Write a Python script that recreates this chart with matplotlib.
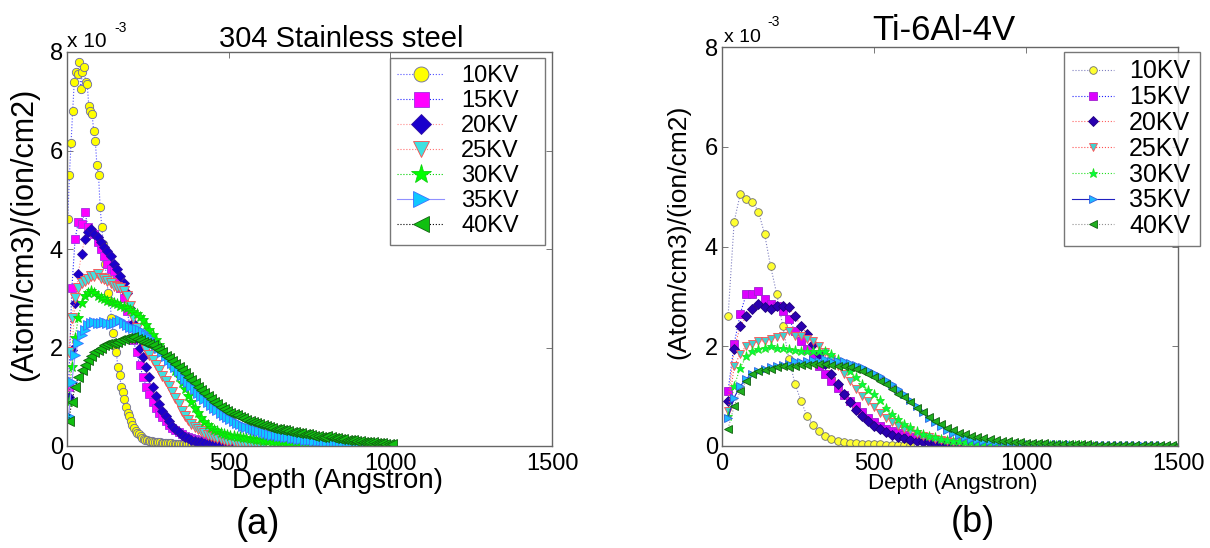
import matplotlib
matplotlib.use("Agg")
import matplotlib.pyplot as plt
import numpy as np
from matplotlib.ticker import FuncFormatter, MultipleLocator

plt.rcParams["font.family"] = ["Liberation Sans", "DejaVu Sans"]

W, H = 1210, 548
Y_SCALE = 1e-3          # concentrations below are stored in units of 1e-3

LABELS = ["10KV", "15KV", "20KV", "25KV", "30KV", "35KV", "40KV"]

# ── 304 stainless steel: implanted N profiles, (atom/cm3)/(ion/cm2) x 1e-3 ──
ss_step = [5, 10, 10, 10, 10, 10, 10]          # depth bin (Angstrom) per series
ss_10kv = [4.6, 5.5, 6.15, 6.8, 7.4, 7.6, 7.55, 7.8, 7.25, 7.6,
           7.7, 7.4, 7.35, 6.9, 6.8, 6.75, 6.4, 6.2, 5.7, 5.5,
           4.85, 4.45, 4.1, 3.7, 3.4, 3.1, 2.95, 2.6, 2.3, 2.05,
           1.9, 1.6, 1.45, 1.2, 1.1, 0.95, 0.8, 0.67, 0.6, 0.5,
           0.43, 0.36, 0.3, 0.26, 0.24, 0.2, 0.17, 0.15, 0.13, 0.12,
           0.11, 0.1, 0.1, 0.09, 0.09, 0.08, 0.08, 0.08, 0.07, 0.07,
           0.07, 0.06, 0.06, 0.06, 0.06, 0.05, 0.05, 0.05, 0.05, 0.05,
           0.04, 0.04, 0.04, 0.04, 0.04, 0.04, 0.03, 0.03, 0.03, 0.03,
           0.03, 0.03, 0.03, 0.02, 0.02, 0.02, 0.02, 0.02, 0.02, 0.02,
           0.02, 0.01, 0.01, 0.01, 0.01, 0.01, 0.01, 0.01, 0.01, 0.01,
           0.01]
ss_15kv = [1.2, 3.2, 4.2, 4.55, 4.5, 4.75, 4.45, 4.35, 4.3, 4.15,
           4.0, 3.85, 3.7, 3.6, 3.55, 3.4, 3.2, 3.0, 2.75, 2.45,
           2.15, 1.9, 1.65, 1.4, 1.2, 1.05, 0.9, 0.78, 0.68, 0.58,
           0.5, 0.43, 0.37, 0.32, 0.28, 0.24, 0.21, 0.18, 0.16, 0.14,
           0.12, 0.11, 0.1, 0.09, 0.08, 0.07, 0.07, 0.06, 0.05, 0.05,
           0.04]
ss_20kv = [1.0, 1.95, 2.9, 3.5, 3.9, 4.2, 4.35, 4.4, 4.3, 4.25,
           4.15, 4.05, 3.95, 3.85, 3.7, 3.6, 3.45, 3.3, 3.1, 2.8,
           2.5, 2.2, 2.0, 1.8, 1.6, 1.4, 1.2, 1.02, 0.86, 0.72,
           0.6, 0.5, 0.41, 0.34, 0.28, 0.23, 0.19, 0.16, 0.13, 0.11,
           0.09, 0.08, 0.07, 0.06, 0.05, 0.05, 0.04, 0.04, 0.03, 0.03,
           0.02]
ss_25kv = [1.9, 2.6, 3.0, 3.2, 3.3, 3.35, 3.4, 3.45, 3.45, 3.5,
           3.42, 3.4, 3.35, 3.3, 3.25, 3.22, 3.2, 3.15, 3.05, 2.85,
           2.6, 2.4, 2.25, 2.1, 1.95, 1.85, 1.75, 1.65, 1.55, 1.42,
           1.32, 1.22, 1.1, 0.98, 0.85, 0.72, 0.6, 0.52, 0.45, 0.39,
           0.34, 0.3, 0.26, 0.23, 0.2, 0.18, 0.16, 0.14, 0.12, 0.11,
           0.1, 0.09, 0.08, 0.07, 0.06, 0.06, 0.05, 0.05, 0.04, 0.04,
           0.03]
ss_30kv = [0.9, 1.6, 2.2, 2.6, 2.9, 3.05, 3.1, 3.15, 3.1, 3.05,
           3.0, 2.98, 2.95, 2.92, 2.9, 2.88, 2.85, 2.82, 2.8, 2.76,
           2.72, 2.68, 2.62, 2.55, 2.45, 2.35, 2.25, 2.15, 2.05, 1.95,
           1.85, 1.75, 1.65, 1.52, 1.4, 1.27, 1.15, 1.02, 0.9, 0.78,
           0.66, 0.56, 0.48, 0.42, 0.37, 0.33, 0.3, 0.27, 0.25, 0.23,
           0.21, 0.2, 0.19, 0.18, 0.17, 0.16, 0.15, 0.14, 0.13, 0.12,
           0.11, 0.1, 0.1, 0.09, 0.09, 0.08, 0.08, 0.07, 0.07, 0.06,
           0.06, 0.05, 0.05, 0.05, 0.04, 0.04, 0.04, 0.03, 0.03, 0.03,
           0.03]
ss_35kv = [0.6, 1.3, 1.85, 2.1, 2.25, 2.35, 2.45, 2.5, 2.52, 2.5,
           2.5, 2.52, 2.5, 2.48, 2.5, 2.52, 2.55, 2.5, 2.45, 2.42,
           2.4, 2.38, 2.35, 2.32, 2.25, 2.2, 2.12, 2.05, 1.98, 1.9,
           1.82, 1.75, 1.68, 1.6, 1.52, 1.45, 1.37, 1.3, 1.22, 1.15,
           1.08, 1.01, 0.95, 0.89, 0.83, 0.78, 0.73, 0.68, 0.63, 0.58,
           0.54, 0.5, 0.47, 0.44, 0.41, 0.38, 0.36, 0.34, 0.32, 0.3,
           0.28, 0.26, 0.25, 0.23, 0.22, 0.21, 0.2, 0.19, 0.18, 0.17,
           0.16, 0.15, 0.14, 0.13, 0.12, 0.12, 0.11, 0.1, 0.1, 0.09,
           0.09, 0.08, 0.08, 0.07, 0.07, 0.06, 0.06, 0.05, 0.05, 0.05,
           0.04, 0.04, 0.04, 0.03, 0.03, 0.03, 0.03, 0.02, 0.02, 0.02,
           0.02]
ss_40kv = [0.5, 0.9, 1.2, 1.4, 1.55, 1.65, 1.75, 1.82, 1.9, 1.95,
           2.0, 2.05, 2.08, 2.1, 2.1, 2.12, 2.15, 2.18, 2.2, 2.2,
           2.22, 2.18, 2.15, 2.12, 2.1, 2.08, 2.05, 2.0, 1.95, 1.9,
           1.82, 1.78, 1.72, 1.66, 1.6, 1.54, 1.48, 1.41, 1.34, 1.27,
           1.2, 1.14, 1.08, 1.02, 0.96, 0.9, 0.85, 0.8, 0.76, 0.72,
           0.68, 0.65, 0.62, 0.59, 0.56, 0.53, 0.5, 0.48, 0.46, 0.44,
           0.42, 0.4, 0.38, 0.37, 0.35, 0.34, 0.33, 0.32, 0.3, 0.29,
           0.28, 0.27, 0.26, 0.25, 0.24, 0.22, 0.21, 0.2, 0.19, 0.18,
           0.2, 0.19, 0.17, 0.16, 0.15, 0.14, 0.13, 0.12, 0.12, 0.11,
           0.1, 0.09, 0.09, 0.08, 0.08, 0.07, 0.06, 0.06, 0.05, 0.05,
           0.04]

# ── Ti-6Al-4V ─────────────────────────────────────────────────────────────
ti_step = [20] * 7
ti_10kv = [2.6, 4.5, 5.05, 4.95, 4.9, 4.7, 4.25, 3.6, 3.05, 2.4,
           1.75, 1.25, 0.9, 0.6, 0.42, 0.3, 0.2, 0.14, 0.1, 0.08,
           0.07, 0.06, 0.05, 0.05, 0.04, 0.04, 0.03, 0.03, 0.03, 0.02,
           0.02]
ti_15kv = [1.1, 2.05, 2.65, 3.05, 3.05, 3.1, 2.95, 2.85, 2.8, 2.7,
           2.55, 2.3, 2.1, 1.95, 1.77, 1.6, 1.45, 1.3, 1.17, 1.03,
           0.9, 0.8, 0.68, 0.57, 0.48, 0.4, 0.34, 0.3, 0.26, 0.22,
           0.19, 0.16, 0.14, 0.12, 0.1, 0.09, 0.08, 0.07, 0.06, 0.05,
           0.05, 0.04, 0.04, 0.03, 0.03, 0.03, 0.02, 0.02, 0.02, 0.02,
           0.01]
ti_20kv = [0.9, 1.95, 2.4, 2.6, 2.75, 2.85, 2.78, 2.75, 2.8, 2.81,
           2.78, 2.6, 2.41, 2.25, 2.05, 1.85, 1.65, 1.45, 1.25, 1.05,
           0.88, 0.72, 0.6, 0.5, 0.41, 0.34, 0.28, 0.23, 0.19, 0.16,
           0.13, 0.11, 0.09, 0.08, 0.07, 0.06, 0.05, 0.05, 0.04, 0.04,
           0.03, 0.03, 0.03, 0.02, 0.02, 0.02, 0.02, 0.01, 0.01, 0.01,
           0.01]
ti_25kv = [0.7, 1.6, 1.85, 2.01, 2.05, 2.1, 2.11, 2.15, 2.18, 2.2,
           2.31, 2.21, 2.2, 2.15, 2.1, 2.0, 1.88, 1.75, 1.6, 1.45,
           1.31, 1.15, 1.0, 0.9, 0.78, 0.67, 0.57, 0.48, 0.4, 0.34,
           0.3, 0.25, 0.21, 0.18, 0.15, 0.13, 0.11, 0.09, 0.08, 0.07,
           0.06, 0.05, 0.05, 0.04, 0.04, 0.03, 0.03, 0.03, 0.02, 0.02,
           0.02, 0.02, 0.02, 0.01, 0.01, 0.01, 0.01, 0.01, 0.01, 0.01,
           0.01]
ti_30kv = [0.6, 1.2, 1.57, 1.8, 1.91, 1.95, 1.97, 2.0, 1.97, 1.97,
           1.95, 1.93, 1.91, 1.9, 1.91, 1.9, 1.91, 1.85, 1.75, 1.62,
           1.5, 1.38, 1.25, 1.12, 1.04, 0.92, 0.77, 0.65, 0.55, 0.45,
           0.38, 0.3, 0.25, 0.21, 0.18, 0.15, 0.13, 0.11, 0.1, 0.09,
           0.08, 0.07, 0.06, 0.06, 0.05, 0.05, 0.04, 0.04, 0.04, 0.03,
           0.03, 0.03, 0.03, 0.02, 0.02, 0.02, 0.02, 0.02, 0.02, 0.01,
           0.01]
ti_35kv = [0.57, 0.97, 1.2, 1.35, 1.45, 1.5, 1.55, 1.58, 1.6, 1.63,
           1.65, 1.71, 1.68, 1.7, 1.72, 1.7, 1.75, 1.71, 1.71, 1.7,
           1.66, 1.62, 1.58, 1.52, 1.46, 1.4, 1.32, 1.24, 1.14, 1.04,
           0.92, 0.8, 0.68, 0.57, 0.48, 0.4, 0.33, 0.27, 0.22, 0.18,
           0.15, 0.13, 0.11, 0.1, 0.09, 0.08, 0.07, 0.07, 0.06, 0.06,
           0.05, 0.05, 0.05, 0.04, 0.04, 0.04, 0.04, 0.03, 0.03, 0.03,
           0.03, 0.03, 0.03, 0.02, 0.02, 0.02, 0.02, 0.02, 0.02, 0.02,
           0.02, 0.02, 0.01, 0.01, 0.01]
ti_40kv = [0.35, 0.8, 1.1, 1.3, 1.45, 1.5, 1.52, 1.55, 1.58, 1.6,
           1.58, 1.6, 1.62, 1.63, 1.64, 1.65, 1.64, 1.63, 1.61, 1.6,
           1.58, 1.55, 1.51, 1.45, 1.38, 1.3, 1.24, 1.15, 1.05, 0.98,
           0.88, 0.77, 0.68, 0.58, 0.5, 0.44, 0.37, 0.32, 0.27, 0.24,
           0.21, 0.18, 0.16, 0.14, 0.12, 0.11, 0.1, 0.09, 0.08, 0.07,
           0.07, 0.06, 0.06, 0.05, 0.05, 0.05, 0.04, 0.04, 0.04, 0.04,
           0.03, 0.03, 0.03, 0.03, 0.03, 0.03, 0.02, 0.02, 0.02, 0.02,
           0.02, 0.02, 0.02, 0.02, 0.02]

ss_series = [ss_10kv, ss_15kv, ss_20kv, ss_25kv, ss_30kv, ss_35kv, ss_40kv]
ti_series = [ti_10kv, ti_15kv, ti_20kv, ti_25kv, ti_30kv, ti_35kv, ti_40kv]

# marker, face, edge, line colour, line style
ss_style = [("o", "#ffff00", "#6a6aa0", "#5050ff", ":"),
            ("s", "#ff00ff", "#a030e0", "#2020ff", ":"),
            ("D", "#1a00cc", "#3010a0", "#ff8a8a", ":"),
            ("v", "#40e0e0", "#ff4a4a", "#ff7070", ":"),
            ("*", "#00ff00", "#10d010", "#00d000", ":"),
            (">", "#10c8ff", "#3a70ff", "#9090ff", "-"),
            ("<", "#10c010", "#106010", "#000000", ":")]
ti_style = [("o", "#ffff30", "#707070", "#8080c0", ":"),
            ("s", "#dd00ff", "#a020d0", "#2020ff", ":"),
            ("D", "#2a00b0", "#200080", "#ff6060", ":"),
            ("v", "#40d0d0", "#ff5050", "#ff5050", ":"),
            ("*", "#00ff40", "#20e020", "#20e020", ":"),
            (">", "#20b8ff", "#3060e0", "#2020c0", "-"),
            ("<", "#20b020", "#106010", "#909090", ":")]
ss_msize = [6.0, 6.0, 5.5, 6.5, 8.0, 6.5, 6.5]
ti_msize = [5.5, 5.5, 5.0, 6.0, 6.5, 6.0, 6.0]


def px_rect(l, t, r, b):
    return [l / W, 1 - b / H, (r - l) / W, (b - t) / H]


def draw_panel(ax, series, steps, first_bin, styles, msizes):
    for vals, step, (mk, fc, ec, lc, ls), ms, lab in zip(series, steps, styles, msizes, LABELS):
        depth = (np.arange(len(vals)) + first_bin) * step
        ax.plot(depth, np.array(vals) * Y_SCALE, linestyle=ls, color=lc, linewidth=0.8,
                marker=mk, markersize=ms, markerfacecolor=fc, markeredgecolor=ec,
                markeredgewidth=0.6, label=lab)
    ax.set_xlim(0, 1500)
    ax.set_ylim(0, 8 * Y_SCALE)
    ax.xaxis.set_major_locator(MultipleLocator(500))
    ax.yaxis.set_major_locator(MultipleLocator(2 * Y_SCALE))
    ax.yaxis.set_major_formatter(FuncFormatter(lambda v, p: f"{v / Y_SCALE:g}"))
    ax.tick_params(direction="in", top=True, right=True, length=4, width=0.7,
                   color="#777777", labelsize=17)
    ax.tick_params(axis="x", pad=5)
    ax.tick_params(axis="y", pad=3)
    for s in ax.spines.values():
        s.set_color("#666666")
        s.set_linewidth(1.0)


def px_legend(ax, l, t, r, b, **kw):
    # legend frame stretched over a fixed pixel box
    leg = ax.legend(loc="upper left", mode="expand",
                    bbox_to_anchor=(l / W, 1 - b / H, (r - l) / W, (b - t) / H),
                    bbox_transform=fig.transFigure, frameon=True, fancybox=False,
                    borderaxespad=0, **kw)
    leg.get_frame().set_edgecolor("#555555")
    leg.get_frame().set_linewidth(1.0)
    return leg


fig = plt.figure(figsize=(W / 100, H / 100), dpi=100)

ax1 = fig.add_axes(px_rect(67, 52, 552, 446))
draw_panel(ax1, ss_series, ss_step, 0.5, ss_style, ss_msize)
px_legend(ax1, 390, 58, 545, 275, fontsize=17, borderpad=0.3, labelspacing=0.13,
          handlelength=2.0, handletextpad=0.72, markerscale=1.8)

ax2 = fig.add_axes(px_rect(722, 47, 1178, 446))
draw_panel(ax2, ti_series, ti_step, 1.0, ti_style, ti_msize)
px_legend(ax2, 1064, 52, 1200, 272, fontsize=18, borderpad=0.3, labelspacing=0.07,
          handlelength=1.7, handletextpad=0.6, markerscale=1.0)


# titles, axis labels and multipliers placed in pixel coordinates
def ftext(x, y, s, **kw):
    fig.text(x / W, 1 - y / H, s, **kw)


ftext(341, 47, "304 Stainless steel", fontsize=21, ha="center", va="baseline")
ftext(944, 40, "Ti-6Al-4V", fontsize=25, ha="center", va="baseline")

ftext(24, 234, "(Atom/cm3)/(ion/cm2)", fontsize=22, rotation=90, ha="center", va="center")
ftext(678, 232, "(Atom/cm3)/(ion/cm2)", fontsize=19, rotation=90, ha="center", va="center")

ftext(338, 481, "Depth (Angstron)", fontsize=20, ha="center", va="center")
ftext(953, 483, "Depth (Angstron)", fontsize=16, ha="center", va="center")

ftext(67, 47, "x 10", fontsize=15, ha="left", va="baseline")
ftext(114, 32, "-3", fontsize=10, ha="left", va="baseline")
ftext(724, 42, "x 10", fontsize=14, ha="left", va="baseline")
ftext(767, 26, "-3", fontsize=10, ha="left", va="baseline")

ftext(258, 524, "(a)", fontsize=26, ha="center", va="center")
ftext(973, 523, "(b)", fontsize=26, ha="center", va="center")

fig.savefig("out.png", dpi=100)
